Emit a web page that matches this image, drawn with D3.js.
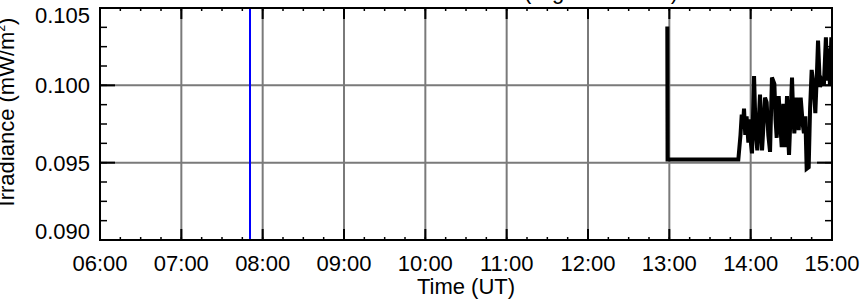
<!DOCTYPE html>
<meta charset="utf-8">
<style>
  body { margin: 0; background: #fff; }
  text { font-family: "Liberation Sans", Arial, sans-serif; fill: #000; }
</style>
<svg width="861" height="300"></svg>
<script src="https://d3js.org/d3.v7.min.js"></script>
<script>

// time axis labels and y tick values
var hourLabels = ["06:00", "07:00", "08:00", "09:00", "10:00", "11:00", "12:00", "13:00", "14:00", "15:00"];
var yTickValues = [0.090, 0.095, 0.100, 0.105];

// marker time (blue line)
var markerTime = "07:50:40";

// irradiance samples
var times = ["12:58:30", "12:58:42", "13:50:54", "13:52:30", "13:53:24", "13:54:10", "13:55:06", "13:56:00",
  "13:57:00", "13:58:18", "13:59:30", "14:00:15", "14:01:00", "14:02:30", "14:03:40", "14:04:54",
  "14:06:54", "14:07:40", "14:08:24", "14:10:36", "14:11:48", "14:13:00", "14:14:18", "14:15:42",
  "14:17:30", "14:18:20", "14:19:12", "14:20:42", "14:21:50", "14:22:54", "14:24:06", "14:25:36",
  "14:26:48", "14:27:30", "14:28:18", "14:30:30", "14:31:20", "14:32:12", "14:33:54", "14:35:24",
  "14:36:54", "14:38:24", "14:39:18", "14:40:20", "14:41:18", "14:42:48", "14:43:50", "14:45:00",
  "14:46:42", "14:47:42", "14:49:00", "14:49:42", "14:51:06", "14:52:30", "14:54:00", "14:55:30",
  "14:56:30", "14:57:30", "14:58:30", "14:59:30", "15:00:00"];
var irradiance = [0.1038, 0.0952, 0.0952, 0.0968, 0.0981, 0.0972, 0.0985, 0.0968,
  0.0980, 0.0963, 0.0978, 0.0962, 0.0956, 0.1006, 0.0970, 0.0958,
  0.0994, 0.0972, 0.0958, 0.0992, 0.0989, 0.0968, 0.0957, 0.1005,
  0.1001, 0.0978, 0.0966, 0.0993, 0.0975, 0.0960, 0.0988, 0.0960,
  0.0993, 0.0970, 0.0955, 0.1005, 0.0982, 0.0969, 0.0992, 0.0971,
  0.0992, 0.0975, 0.0969, 0.0980, 0.0946, 0.0947, 0.0985, 0.1010,
  0.0997, 0.0982, 0.1011, 0.1029, 0.0999, 0.1003, 0.1000, 0.1031,
  0.1003, 0.1024, 0.1000, 0.1031, 0.1015];

var parse = function(s) {
  var p = s.split(":");
  return new Date(Date.UTC(2000, 0, 1, +p[0], +p[1], +(p[2] || 0)));
};

var data = times.map(function(t, i) { return {t: parse(t), v: irradiance[i]}; });

var margin = {top: 8, right: 29, bottom: 60, left: 100},
    width = 861 - margin.left - margin.right,
    height = 300 - margin.top - margin.bottom;

var svg = d3.select("svg");
var g = svg.append("g").attr("transform", "translate(" + margin.left + "," + margin.top + ")");

var x = d3.scaleUtc()
    .domain([parse(hourLabels[0]), parse(hourLabels[hourLabels.length - 1])])
    .range([0, width]);

var y = d3.scaleLinear()
    .domain([yTickValues[0], yTickValues[yTickValues.length - 1]])
    .range([height, 0]);

var hourTicks = hourLabels.map(parse);
var minorX = d3.utcMinute.every(15).range(x.domain()[0], x.domain()[1]);
var minorY = d3.range(0, 13).map(function(i) { return yTickValues[0] + i * 0.00125; });

g.append("defs").append("clipPath").attr("id", "clip")
  .append("rect").attr("width", width).attr("height", height);

// grid
g.append("g").selectAll("line")
  .data(hourTicks.slice(1, -1))
  .enter().append("line")
    .attr("x1", x).attr("x2", x)
    .attr("y1", 0).attr("y2", height)
    .attr("stroke", "#7a7a7a").attr("stroke-width", 2);

g.append("g").selectAll("line")
  .data(yTickValues.slice(1, -1))
  .enter().append("line")
    .attr("y1", y).attr("y2", y)
    .attr("x1", 0).attr("x2", width)
    .attr("stroke", "#7a7a7a").attr("stroke-width", 2);

// blue marker
g.append("line")
  .attr("x1", x(parse(markerTime))).attr("x2", x(parse(markerTime)))
  .attr("y1", 0).attr("y2", height)
  .attr("stroke", "#0000ff").attr("stroke-width", 2);

// data
g.append("path")
  .datum(data)
  .attr("clip-path", "url(#clip)")
  .attr("fill", "none")
  .attr("stroke", "#000")
  .attr("stroke-width", 4)
  .attr("stroke-linejoin", "miter")
  .attr("d", d3.line().x(function(d) { return x(d.t); }).y(function(d) { return y(d.v); }));

// ticks (inward)
var ticks = g.append("g").attr("stroke", "#000");
ticks.selectAll(".mxb").data(minorX).enter().append("line")
  .attr("x1", x).attr("x2", x).attr("y1", height).attr("y2", height - 3).attr("stroke-width", 1.5);
ticks.selectAll(".mxt").data(minorX).enter().append("line")
  .attr("x1", x).attr("x2", x).attr("y1", 0).attr("y2", 3).attr("stroke-width", 1.5);
ticks.selectAll(".Mxb").data(hourTicks).enter().append("line")
  .attr("x1", x).attr("x2", x).attr("y1", height).attr("y2", height - 11).attr("stroke-width", 2);
ticks.selectAll(".Mxt").data(hourTicks).enter().append("line")
  .attr("x1", x).attr("x2", x).attr("y1", 0).attr("y2", 11).attr("stroke-width", 2);
ticks.selectAll(".myl").data(minorY).enter().append("line")
  .attr("y1", y).attr("y2", y).attr("x1", 0).attr("x2", 7).attr("stroke-width", 1.5);
ticks.selectAll(".myr").data(minorY).enter().append("line")
  .attr("y1", y).attr("y2", y).attr("x1", width).attr("x2", width - 7).attr("stroke-width", 1.5);
ticks.selectAll(".Myl").data(yTickValues).enter().append("line")
  .attr("y1", y).attr("y2", y).attr("x1", 0).attr("x2", 15).attr("stroke-width", 2);
ticks.selectAll(".Myr").data(yTickValues).enter().append("line")
  .attr("y1", y).attr("y2", y).attr("x1", width).attr("x2", width - 15).attr("stroke-width", 2);

// frame
g.append("rect")
  .attr("width", width).attr("height", height)
  .attr("fill", "none").attr("stroke", "#000").attr("stroke-width", 2);

// tick labels
g.append("g").selectAll("text")
  .data(hourTicks)
  .enter().append("text")
    .attr("x", x)
    .attr("y", height + 31)
    .attr("text-anchor", "middle")
    .attr("font-size", 22)
    .text(d3.utcFormat("%H:%M"));

g.append("g").selectAll("text")
  .data(yTickValues)
  .enter().append("text")
    .attr("x", -10)
    .attr("y", function(d, i) {
      var py = y(d);
      if (i === 0) py -= 9;
      if (i === yTickValues.length - 1) py += 7;
      return py;
    })
    .attr("dy", "0.36em")
    .attr("text-anchor", "end")
    .attr("font-size", 22)
    .text(d3.format(".3f"));

// axis titles
svg.append("text")
  .attr("x", margin.left + width / 2)
  .attr("y", 294)
  .attr("text-anchor", "middle")
  .attr("font-size", 22)
  .text("Time (UT)");

var yl = svg.append("text")
  .attr("transform", "translate(14,112)rotate(-90)")
  .attr("text-anchor", "middle")
  .attr("font-size", 22);
yl.append("tspan").text("Irradiance (mW/m");
yl.append("tspan").attr("font-size", 12).attr("dy", -9).text("2");
yl.append("tspan").attr("dy", 9).text(")");

// title (mostly above the visible area)
svg.append("text")
  .attr("x", 678)
  .attr("y", -1.5)
  .attr("text-anchor", "end")
  .attr("font-size", 22)
  .text("ESP Irradiance (High Cadence)");

</script>
